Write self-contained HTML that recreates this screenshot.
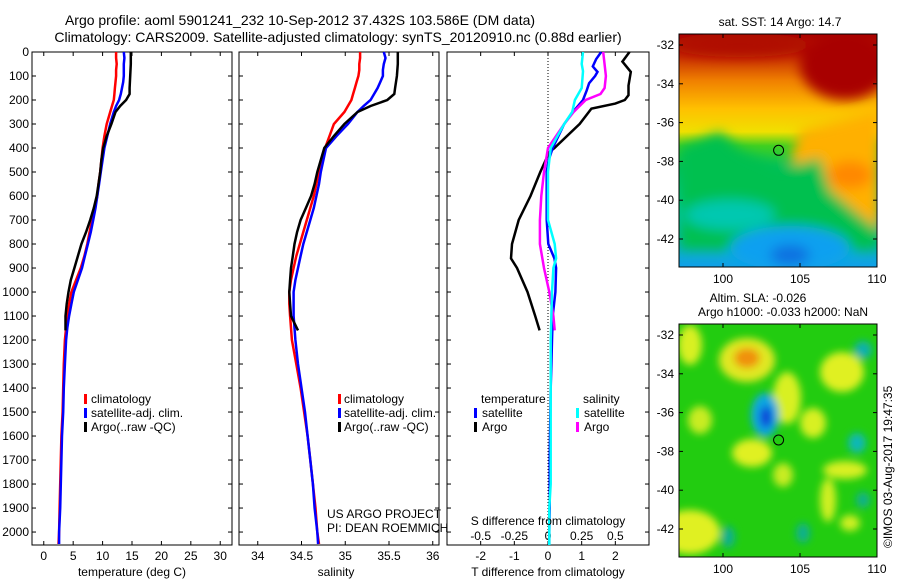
<!DOCTYPE html>
<html><head><meta charset="utf-8"><style>
body{margin:0;background:#fff;width:900px;height:580px;overflow:hidden}
svg{display:block;font-family:"Liberation Sans",sans-serif}
text{font-size:12px;fill:#000}
</style></head><body>
<svg id="chart" width="900" height="580" viewBox="0 0 900 580">
<defs>
<linearGradient id="sstg" x1="0" y1="0" x2="0" y2="1">
<stop offset="0" stop-color="#a80000"/><stop offset="0.1" stop-color="#c83000"/><stop offset="0.2" stop-color="#f08000"/>
<stop offset="0.32" stop-color="#ffc000"/><stop offset="0.42" stop-color="#f0e000"/><stop offset="0.48" stop-color="#40d020"/>
<stop offset="0.58" stop-color="#00c060"/><stop offset="0.75" stop-color="#00c8a8"/><stop offset="1" stop-color="#10a0e8"/>
</linearGradient>
<filter id="bl" x="-50%" y="-50%" width="200%" height="200%"><feGaussianBlur stdDeviation="6"/></filter>
<filter id="bl2" x="-50%" y="-50%" width="200%" height="200%"><feGaussianBlur stdDeviation="4"/></filter>
<clipPath id="m1"><rect x="679" y="34" width="198" height="233"/></clipPath>
<clipPath id="m2"><rect x="679" y="324" width="198" height="233"/></clipPath>
</defs>
<text x="300" y="25" text-anchor="middle" style="font-size:14px">Argo profile: aoml 5901241_232 10-Sep-2012 37.432S 103.586E (DM data)</text>
<text x="338" y="42" text-anchor="middle" style="font-size:14px">Climatology: CARS2009. Satellite-adjusted climatology: synTS_20120910.nc (0.88d earlier)</text>
<g id="axes"></g>
<g id="series"></g>
<!-- maps -->
<g clip-path="url(#m1)">
<rect x="679" y="34" width="198" height="233" fill="url(#sstg)"/>
<g filter="url(#bl)">
<ellipse cx="845" cy="65" rx="45" ry="35" fill="#a80000"/>
<ellipse cx="740" cy="45" rx="70" ry="12" fill="#b01000"/>
<path d="M800 130 L880 110 L880 235 L850 225 L820 185 L790 160 Z" fill="#ffb000"/>
<ellipse cx="850" cy="175" rx="22" ry="14" fill="#ff8800"/>
<path d="M679 148 L700 140 L720 132 L740 150 L780 168 L820 158 L830 190 L860 215 L880 230 L880 250 L679 250 Z" fill="#00c050"/>
<ellipse cx="730" cy="215" rx="45" ry="15" fill="#00c8b0"/>
<ellipse cx="790" cy="248" rx="60" ry="22" fill="#10a0f0"/>
<ellipse cx="790" cy="255" rx="20" ry="10" fill="#1070e0"/>
</g>
<circle cx="778.6" cy="150.3" r="5" fill="none" stroke="#000"/>
</g>
<rect x="679" y="34" width="198" height="233" fill="none" stroke="#000"/>
<g clip-path="url(#m2)">
<rect x="679" y="324" width="198" height="233" fill="#22cc10"/>
<g filter="url(#bl2)">
<ellipse cx="747" cy="360" rx="28" ry="22" fill="#e0e820"/>
<ellipse cx="747" cy="358" rx="13" ry="10" fill="#f09010"/>
<ellipse cx="842" cy="372" rx="22" ry="20" fill="#e0f020"/>
<ellipse cx="690" cy="345" rx="12" ry="20" fill="#d8f020"/>
<ellipse cx="787" cy="398" rx="14" ry="26" fill="#d8f020"/>
<ellipse cx="813" cy="423" rx="13" ry="15" fill="#d8f020"/>
<ellipse cx="752" cy="453" rx="20" ry="14" fill="#e0f020"/>
<ellipse cx="783" cy="475" rx="10" ry="12" fill="#c8ec20"/>
<ellipse cx="845" cy="470" rx="22" ry="9" fill="#d8f020"/>
<ellipse cx="828" cy="500" rx="8" ry="22" fill="#d0f020"/>
<ellipse cx="850" cy="523" rx="10" ry="8" fill="#d0f020"/>
<ellipse cx="690" cy="532" rx="30" ry="22" fill="#e0f020"/>
<ellipse cx="700" cy="420" rx="12" ry="14" fill="#c8ec20"/>
<ellipse cx="765" cy="415" rx="14" ry="22" fill="#10a8e0"/>
<ellipse cx="766" cy="417" rx="6" ry="11" fill="#1040d8"/>
<ellipse cx="863" cy="350" rx="9" ry="9" fill="#10b0b0"/>
<ellipse cx="857" cy="443" rx="9" ry="10" fill="#10b8b8"/>
<ellipse cx="728" cy="537" rx="7" ry="11" fill="#10b090"/>
<ellipse cx="803" cy="533" rx="7" ry="10" fill="#10b090"/>
<ellipse cx="863" cy="500" rx="7" ry="8" fill="#10b090"/>
</g>
<circle cx="778.6" cy="440" r="5" fill="none" stroke="#000"/>
</g>
<rect x="679" y="324" width="198" height="233" fill="none" stroke="#000"/>
<text x="780" y="26" text-anchor="middle">sat. SST: 14 Argo: 14.7</text>
<text x="758" y="302" text-anchor="middle">Altim. SLA: -0.026</text>
<text x="783" y="316" text-anchor="middle">Argo h1000: -0.033 h2000: NaN</text>
<text transform="translate(892,548) rotate(-90)">©IMOS 03-Aug-2017 19:47:35</text>
<g id="mapaxes"></g>
<!-- legends -->
<g>
<rect x="84" y="394" width="3" height="10" fill="#f00"/><text x="91" y="403">climatology</text>
<rect x="84" y="408" width="3" height="10" fill="#00f"/><text x="91" y="417">satellite-adj. clim.</text>
<rect x="84" y="422" width="3" height="10" fill="#000"/><text x="91" y="431">Argo(..raw -QC)</text>
</g>
<g>
<rect x="338" y="394" width="3" height="10" fill="#f00"/><text x="344" y="403">climatology</text>
<rect x="338" y="408" width="3" height="10" fill="#00f"/><text x="344" y="417">satellite-adj. clim.</text>
<rect x="338" y="422" width="3" height="10" fill="#000"/><text x="344" y="431">Argo(..raw -QC)</text>
</g>
<g>
<text x="481" y="403">temperature</text><text x="583" y="403">salinity</text>
<rect x="474" y="408" width="3" height="10" fill="#00f"/><text x="482" y="417">satellite</text>
<rect x="474" y="422" width="3" height="10" fill="#000"/><text x="482" y="431">Argo</text>
<rect x="576" y="408" width="3" height="10" fill="#0ff"/><text x="584" y="417">satellite</text>
<rect x="576" y="422" width="3" height="10" fill="#f0f"/><text x="584" y="431">Argo</text>
</g>
<text x="327" y="518">US ARGO PROJECT</text>
<text x="327" y="532">PI: DEAN ROEMMICH</text>
<text x="548" y="525" text-anchor="middle">S difference from climatology</text>
<text x="132" y="576" text-anchor="middle">temperature (deg C)</text>
<text x="336" y="576" text-anchor="middle">salinity</text>
<text x="548" y="576" text-anchor="middle">T difference from climatology</text>
</svg>
<script>
const depths=[0,25,50,75,100,125,150,175,200,225,250,300,350,400,450,500,550,600,650,700,750,800,850,900,950,1000,1050,1100,1150,1200,1300,1400,1500,1600,1700,1800,1900,2000,2050];
const tempClim=[12.3,12.3,12.4,12.3,12.3,12.2,12.1,12.0,11.9,11.6,11.3,10.7,10.3,10.0,9.8,9.6,9.3,9.1,8.7,8.2,7.8,7.4,6.9,6.3,5.5,4.7,4.3,4.0,3.8,3.6,3.4,3.3,3.2,3.0,2.9,2.8,2.7,2.6,2.5];
const tempSat=[13.6,13.7,13.6,13.6,13.6,13.5,13.3,13.1,12.8,12.3,11.9,11.3,10.8,10.3,10.0,9.7,9.4,9.1,8.8,8.4,8.0,7.5,7.0,6.5,5.8,5.1,4.7,4.3,4.0,3.8,3.6,3.4,3.3,3.1,3.0,2.9,2.8,2.6,2.6];
const argoDepths=[0,50,100,150,175,200,225,250,300,350,400,450,500,550,600,650,700,750,800,850,900,950,1000,1050,1100,1160];
const tempArgo=[14.8,14.8,14.7,14.6,14.6,14.0,13.0,12.2,11.5,10.7,10.1,9.8,9.6,9.3,9.0,8.5,7.9,7.2,6.4,5.8,5.2,4.6,4.2,3.9,3.7,3.7];
const salClim=[35.17,35.17,35.16,35.16,35.15,35.13,35.11,35.09,35.07,35.03,34.99,34.87,34.82,34.77,34.73,34.70,34.67,34.64,34.60,34.56,34.52,34.48,34.44,34.41,34.38,34.36,34.36,34.37,34.38,34.39,34.44,34.49,34.53,34.57,34.60,34.63,34.66,34.68,34.70];
const salSat=[35.44,35.46,35.44,35.43,35.43,35.40,35.37,35.33,35.29,35.21,35.14,35.03,34.90,34.78,34.75,34.72,34.70,34.67,34.64,34.60,34.56,34.52,34.49,34.46,34.43,34.41,34.41,34.41,34.42,34.43,34.46,34.50,34.54,34.57,34.60,34.63,34.65,34.68,34.69];
const salArgo=[35.60,35.60,35.59,35.57,35.56,35.48,35.29,35.14,34.99,34.87,34.76,34.72,34.68,34.65,34.61,34.55,34.49,34.45,34.42,34.40,34.38,34.37,34.36,34.37,34.38,34.46];
const tdiffSat=[1.58,1.43,1.33,1.47,1.40,1.22,1.15,1.04,0.74,0.48,0.14,0.02,-0.04,-0.04,-0.04,0.01,0.19,0.24,0.22,0.14,0.12,0.10,0.08,0.07,0.06,0.05,0.05,0.05,0.04,0.04,0.04];
const satDiffDepths=[0,30,60,83,100,130,160,200,250,300,400,450,500,600,700,800,860,900,1000,1100,1200,1300,1400,1500,1600,1700,1800,1900,2000,2050,2054];
const tdiffArgo=[2.42,2.21,2.46,2.39,2.39,2.28,2.0,1.29,0.94,0.19,0.04,-0.23,-0.52,-0.87,-1.07,-1.1,-0.92,-0.61,-0.38,-0.25];
const argoDiffDepths=[0,40,83,140,180,200,215,236,300,400,417,500,600,700,800,860,900,1000,1100,1160];
const sdiffArgo=[0.41,0.43,0.42,0.39,0.28,0.19,0.12,0.00,-0.03,-0.05,-0.06,-0.06,-0.03,0.01,0.04,0.05];
const sdiffArgoDepths=[0,100,150,175,200,250,300,400,500,600,700,800,900,1000,1100,1160];
const sdiffSat=[0.26,0.25,0.26,0.25,0.20,0.18,0.12,0.02,0.00,0.00,0.05,0.06,0.04,0.03,0.02,0.02,0.02,0.02,0.01,0.01,0.01];
const sdiffSatDepths=[0,50,80,150,200,250,300,400,500,700,800,860,900,1000,1200,1400,1600,1800,1900,2000,2054];
const depthTicks=[0,100,200,300,400,500,600,700,800,900,1000,1100,1200,1300,1400,1500,1600,1700,1800,1900,2000];
const tempTicks=[0,5,10,15,20,25,30];
const salTicks=[34,34.5,35,35.5,36];
const tdTicks=[-2,-1,0,1,2];
const sdTicks=[-0.5,-0.25,0,0.25,0.5];
const sdTickLabels=["-0.5","-0.25","0","0.25","0.5"];
const latTicks=[-32,-34,-36,-38,-40,-42];
const lonTicks=[100,105,110];

const NS='http://www.w3.org/2000/svg';
function lin(d0,d1,r0,r1){return v=>r0+(v-d0)/(d1-d0)*(r1-r0);}
const yD=lin(0,2054,52,545);
const xT=lin(-2,32,32,232), xS=lin(33.7857,36.0714,239,439), xTD=lin(-3,3,447,649), xSD=lin(-0.75,0.75,447,649);
function mk(tag,attrs,parent){const e=document.createElementNS(NS,tag);for(const k in attrs)e.setAttribute(k,attrs[k]);parent.appendChild(e);return e;}
const ax=document.getElementById('axes'), se=document.getElementById('series'), ma=document.getElementById('mapaxes');
const panels=[[32,232,'temperature-panel'],[239,439,'salinity-panel'],[447,649,'difference-panel']];
panels.forEach(p=>{
  const r=mk('rect',{x:p[0],y:52,width:p[1]-p[0],height:493,fill:'none',stroke:'#000'},ax);
  
  
  depthTicks.forEach(d=>{mk('line',{x1:p[0],x2:p[0]+4,y1:yD(d),y2:yD(d),stroke:'#000'},ax);mk('line',{x1:p[1],x2:p[1]-4,y1:yD(d),y2:yD(d),stroke:'#000'},ax);});
});
depthTicks.forEach(d=>{const t=mk('text',{x:29,y:yD(d)+4,'text-anchor':'end'},ax);t.textContent=d;
  
  });
function xticks(vals,labels,sc,ylab){vals.forEach((v,i)=>{const x=sc(v);mk('line',{x1:x,x2:x,y1:545,y2:541,stroke:'#000'},ax);mk('line',{x1:x,x2:x,y1:52,y2:56,stroke:'#000'},ax);
  const t=mk('text',{x:x,y:ylab,'text-anchor':'middle'},ax);t.textContent=labels[i];
  
  });}
xticks(tempTicks,tempTicks,xT,560);
xticks(salTicks,salTicks,xS,560);
xticks(tdTicks,tdTicks,xTD,560);
sdTicks.forEach((v,i)=>{const t=mk('text',{x:xSD(v),y:540,'text-anchor':'middle'},ax);t.textContent=sdTickLabels[i];
  
  });
mk('line',{x1:xTD(0),x2:xTD(0),y1:52,y2:545,stroke:'#000','stroke-dasharray':'1,2'},ax);
function line(xs,ds,sx,color,name,w){const pts=xs.map((v,i)=>sx(v).toFixed(1)+','+yD(ds[i]).toFixed(1)).join(' ');
  const e=mk('polyline',{points:pts,fill:'none',stroke:color,'stroke-width':w||2.5},se);
  
  }
line(tempClim,depths,xT,'#f00','temp-climatology-line');
line(tempSat,depths,xT,'#00f','temp-satellite-line');
line(tempArgo,argoDepths,xT,'#000','temp-argo-line');
line(salClim,depths,xS,'#f00','sal-climatology-line');
line(salSat,depths,xS,'#00f','sal-satellite-line');
line(salArgo,argoDepths,xS,'#000','sal-argo-line');
line(tdiffArgo,argoDiffDepths,xTD,'#000','tdiff-argo-line');
line(tdiffSat,satDiffDepths,xTD,'#00f','tdiff-satellite-line');
line(sdiffArgo,sdiffArgoDepths,xSD,'#f0f','sdiff-argo-line');
line(sdiffSat,sdiffSatDepths,xSD,'#0ff','sdiff-satellite-line');
// map axes
const xLon=lin(100,110,723,877);
[[45,34,267],[335,324,557]].forEach(m=>{
  const yLat=v=>m[0]+(-32-v)*19.4;
  latTicks.forEach(v=>{const y=yLat(v);mk('line',{x1:679,x2:683,y1:y,y2:y,stroke:'#000'},ma);mk('line',{x1:877,x2:873,y1:y,y2:y,stroke:'#000'},ma);
    const t=mk('text',{x:674,y:y+4,'text-anchor':'end'},ma);t.textContent=v;
    
    });
  lonTicks.forEach(v=>{const x=xLon(v);mk('line',{x1:x,x2:x,y1:m[2],y2:m[2]-4,stroke:'#000'},ma);mk('line',{x1:x,x2:x,y1:m[1],y2:m[1]+4,stroke:'#000'},ma);
    const t=mk('text',{x:x,y:m[2]+16,'text-anchor':'middle'},ma);t.textContent=v;
    
    });
});
</script>
</body></html>
